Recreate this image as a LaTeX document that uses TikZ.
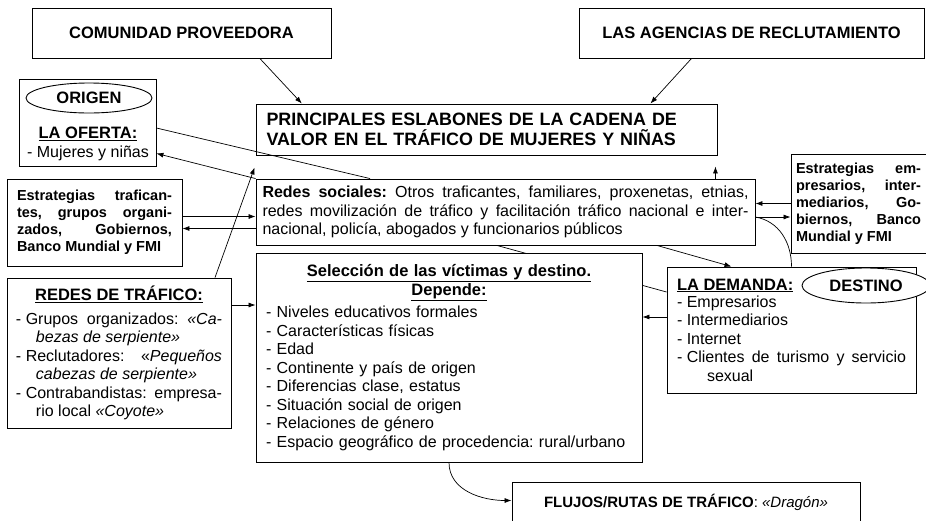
\documentclass[tikz,border=0pt]{standalone}
\usepackage{fontspec}
\setmainfont{Liberation Sans}
\usetikzlibrary{arrows.meta,%
                shapes.geometric,backgrounds}
\frenchspacing

\newcommand{\letra}{\fontsize{16}{18.5}\selectfont\tolerance=9999 \hyphenpenalty=10000 }
\newcommand{\letrachica}{\fontsize{14.5}{17}\selectfont\bfseries\tolerance=9999 \hyphenpenalty=10000 }
\newcommand{\letratitulo}{\fontsize{16.5}{19}\selectfont\bfseries}
\newcommand{\punto}[2][20pt]{\par\noindent\hangindent=#1\hangafter=1 -\hspace{.278em}#2\par}

\tikzset{caja/.style={draw, line width=0.9pt, fill=white, inner ysep=0pt},
         elipse/.style={draw, ellipse, line width=0.9pt, fill=white, inner sep=0pt, font=\letratitulo},
         flecha/.style={line width=0.7pt, -{Latex[length=7pt,width=5pt]}},
         linea/.style={line width=0.7pt}}

\begin{document}
\begin{tikzpicture}[x=1pt,y=-1pt]
\useasboundingbox (0,0) rectangle (926,520);
%\draw[help lines] (0,0) grid (926,520);
\node[caja, minimum width=299pt, minimum height=50pt, font=\letratitulo] (comunidad) at (181.5,33) {COMUNIDAD PROVEEDORA};
\node[caja, minimum width=345pt, minimum height=50pt, font=\letratitulo] (agencias) at (751.5,33) {LAS AGENCIAS DE RECLUTAMIENTO};
\node[caja, text width=440pt, inner xsep=10.5pt, minimum height=51pt, align=left,
      font=\fontsize{17.9}{20}\selectfont\bfseries] (eslabones) at (486.5,129.5)
      {PRINCIPALES ESLABONES DE LA CADENA DE\\VALOR EN EL TRÁFICO DE MUJERES Y NIÑAS};

\node[caja, minimum width=137pt, minimum height=87pt] (oferta) at (87.5,122.5) {};
\node[elipse, minimum width=126pt, minimum height=30pt] (origen) at (89,98) {ORIGEN};
\node[align=center, font=\letra, inner sep=0pt] (ofertatxt) at (88,144)
      {{\letratitulo\underline{LA OFERTA:}}\\- Mujeres y niñas};

\node[caja, text width=155pt, inner xsep=10pt, minimum height=87pt, align=justify,
      font=\letrachica] (estrat) at (94.5,222.5)
      {Estrategias trafican-\linebreak tes, grupos organi-\linebreak zados, Gobiernos,\linebreak Banco Mundial y FMI};
\node[caja, text width=486pt, inner xsep=6.5pt, minimum height=66pt, align=justify,
      font=\letra] (redes) at (505.5,212)
      {\textbf{Redes sociales:} Otros traficantes, familiares, proxenetas, etnias,\linebreak
       redes movilización de tráfico y facilitación tráfico nacional e inter-\linebreak
       nacional, policía, abogados y funcionarios públicos};
\node[caja, text width=125pt, inner xsep=5pt, minimum height=99pt, align=justify,
      font=\letrachica] (estratemp) at (858.5,203.5)
      {Estrategias em-\linebreak presarios, inter-\linebreak mediarios, Go-\linebreak biernos, Banco\linebreak Mundial y FMI};

\node[caja, text width=206pt, inner xsep=9pt, minimum height=150pt, align=justify,
      font=\letra] (redtraf) at (119,353)
      {{\centering\letratitulo\underline{REDES DE TRÁFICO:}\par}
       \vspace{5pt}
       \punto{Grupos organizados: \textit{«Ca-}\linebreak\textit{bezas de serpiente»}}
       \punto{Reclutadores: «\textit{Pequeños}\linebreak\textit{cabezas de serpiente»}}
       \punto{Contrabandistas: empresa-\linebreak rio local \textit{«Coyote»}}};
\node[caja, text width=229pt, inner xsep=10pt, minimum height=126pt, align=justify,
      font=\letra] (demanda) at (791.5,330)
      {{\letratitulo\underline{LA DEMANDA:}\par}
       \vspace{-1.5pt}
       \punto[30pt]{Empresarios}
       \punto[30pt]{Intermediarios}
       \punto[30pt]{Internet}
       \punto[30pt]{Clientes de turismo y servicio\linebreak sexual}};
\node[elipse, minimum width=128pt, minimum height=35pt] (destino) at (866,285.5) {DESTINO};

\begin{scope}[on background layer]
\draw[linea] ([xshift=-8.5pt]redes.south) -- ([yshift=38pt]demanda.west);
\end{scope}

\node[caja, text width=366pt, inner xsep=10pt, minimum height=209pt, align=left,
      font=\letra] (seleccion) at (449,357.5)
      {{\centering\letratitulo\underline{Selección de las víctimas y destino.}\\\underline{Depende:}\par}
       \vspace{3.5pt}
       - Niveles educativos formales\\
       - Características físicas\\
       - Edad\\
       - Continente y país de origen\\
       - Diferencias clase, estatus\\
       - Situación social de origen\\
       - Relaciones de género\\
       - Espacio geográfico de procedencia: rural/urbano};
\node[caja, minimum width=348pt, minimum height=40pt, font=\fontsize{15}{18}\selectfont] (flujos) at (686,502.5)
      {\textbf{FLUJOS/RUTAS DE TRÁFICO}: \textit{«Dragón»}};

\draw[flecha] (comunidad.-18.5) -- (eslabones.172.6);
\draw[flecha] (agencias.-157.5) -- (eslabones.9.25);
\draw[linea] ([yshift=-5.5pt]oferta.east) -- ([xshift=-135.5pt]redes.north);
\draw[flecha] (redes.north west) -- ([yshift=13pt]oferta.south east);
\draw[flecha] ([xshift=96pt]redtraf.north) -- ([shift={(-1pt,-12pt)}]eslabones.south west);
\draw[flecha] ([xshift=-40pt]redes.north east) -- ([shift={(-2pt,-11pt)}]eslabones.south east);
\draw[flecha] ([yshift=6pt]estrat.east) -- ([yshift=6pt]estrat.east -| redes.west);
\draw[flecha] ([yshift=-6pt]estrat.east -| redes.west) -- ([yshift=-6pt]estrat.east);
\draw[flecha] (estratemp.west) -- (estratemp.west -| redes.east);
\draw[flecha] ([yshift=-5pt]redes.east) -- ([yshift=-5pt]redes.east -| estratemp.west);
\draw[linea] ([yshift=-5pt]redes.east) to[out=-10,in=90] (demanda.north);
\draw[flecha] ([xshift=151.5pt]redes.south) -- ([xshift=-60pt]demanda.north);
\draw[flecha] ([yshift=48pt]redtraf.east) -- ([yshift=48pt]redtraf.east -| seleccion.west);
\draw[flecha] ([yshift=13pt]demanda.west) -- ([yshift=13pt]demanda.west -| seleccion.east);
\draw[flecha] (seleccion.south) to[out=-90,in=180] ([yshift=2pt]flujos.west);
\end{tikzpicture}
\end{document}
